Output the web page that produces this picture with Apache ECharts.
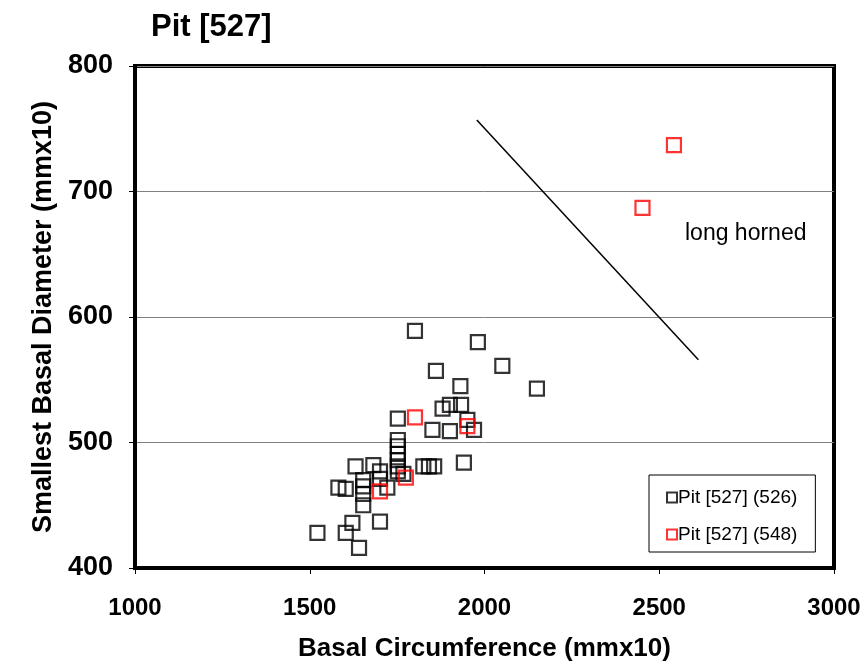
<!DOCTYPE html>
<html>
<head>
<meta charset="utf-8">
<script src="https://cdn.jsdelivr.net/npm/echarts@6/dist/echarts.min.js"></script>
<style>
  html, body { margin: 0; padding: 0; background: #fff; }
  #main { width: 867px; height: 669px; }
</style>
</head>
<body>
<div id="main"></div>
<script>
// 数据
var pit526X = [1801, 1981, 1861, 2051, 2150, 1931, 1880, 1901, 1933, 1752, 1951, 1970, 1851, 1901,
               1752, 1752, 1752, 1752, 1752, 1752, 1941, 1825, 1841, 1856, 1768, 1631, 1682, 1701,
               1701, 1722, 1582, 1603, 1653, 1653, 1653, 1653, 1622, 1701, 1522, 1603, 1641];
var pit526Y = [589, 580, 557, 561, 543, 545, 527, 530, 530, 519, 518, 510, 510, 509,
               502, 497, 491, 486, 481, 477, 484, 481, 481, 481, 475, 481, 482, 477,
               471, 464, 464, 463, 470, 465, 459, 450, 436, 437, 428, 428, 416];
var pit548X = [1801, 1951, 1701, 1775, 2452, 2542];
var pit548Y = [520, 513, 461, 472, 687, 737];
var lineX = [1978, 2612];
var lineY = [757, 566];
var xTicks = [1000, 1500, 2000, 2500, 3000];
var yTicks = [400, 500, 600, 700, 800];

function zip(xs, ys) {
    var out = [];
    for (var i = 0; i < xs.length; i++) out.push([xs[i], ys[i]]);
    return out;
}

var font = 'Liberation Sans, Arial, sans-serif';

var option = {
    backgroundColor: '#fff',
    animation: false,
    title: {
        text: 'Pit [527]',
        left: 146,
        top: 7,
        textStyle: { fontFamily: font, fontSize: 31, fontWeight: 'bold', color: '#000' }
    },
    grid: {
        left: 135, right: 33, top: 66, bottom: 101,
        show: true, borderColor: '#000', borderWidth: 4
    },
    legend: {
        orient: 'vertical',
        left: 649, top: 475,
        backgroundColor: '#fff',
        borderColor: '#000', borderWidth: 1,
        padding: [13, 18, 8, 17],
        itemGap: 18,
        itemWidth: 10, itemHeight: 10,
        textStyle: { fontFamily: font, fontSize: 19, color: '#000', padding: [0, 0, 0, -4] },
        data: ['Pit [527] (526)', 'Pit [527] (548)']
    },
    xAxis: {
        type: 'value',
        min: xTicks[0], max: xTicks[xTicks.length - 1], interval: 500,
        name: 'Basal Circumference (mmx10)',
        nameLocation: 'middle', nameGap: 68,
        nameTextStyle: { fontFamily: font, fontSize: 26, fontWeight: 'bold', color: '#000' },
        axisLine: { show: true, lineStyle: { color: '#000', width: 4 } },
        axisTick: { show: true, length: 6, lineStyle: { color: '#000', width: 1 } },
        axisLabel: {
            margin: 28, fontFamily: font, fontSize: 24, fontWeight: 'bold', color: '#000',
            formatter: function (v) { return String(v); }
        },
        splitLine: { show: false }
    },
    yAxis: {
        type: 'value',
        min: yTicks[0], max: yTicks[yTicks.length - 1], interval: 100,
        name: 'Smallest Basal Diameter (mmx10)',
        nameLocation: 'middle', nameGap: 73,
        nameTextStyle: { fontFamily: font, fontSize: 27, fontWeight: 'bold', color: '#000' },
        axisLine: { show: true, lineStyle: { color: '#000', width: 4 } },
        axisTick: { show: true, length: 6, lineStyle: { color: '#000', width: 1 } },
        axisLabel: {
            margin: 22, fontFamily: font, fontSize: 27, fontWeight: 'bold', color: '#000',
            formatter: function (v) { return String(v); }
        },
        splitLine: { show: true, lineStyle: { color: '#808080', width: 1 } }
    },
    graphic: [{
        type: 'text',
        left: 685, top: 222,
        style: { text: 'long horned', fontFamily: font, fontSize: 23, fill: '#000' }
    }],
    series: [
        {
            name: 'divider',
            type: 'line',
            data: zip(lineX, lineY),
            symbol: 'none',
            lineStyle: { color: '#000', width: 1.5 },
            silent: true
        },
        {
            name: 'Pit [527] (526)',
            type: 'scatter',
            data: zip(pit526X, pit526Y),
            symbol: 'rect',
            symbolSize: 14,
            itemStyle: { color: 'rgba(255,255,255,0)', borderColor: '#000', borderWidth: 2.2 }
        },
        {
            name: 'Pit [527] (548)',
            type: 'scatter',
            data: zip(pit548X, pit548Y),
            symbol: 'rect',
            symbolSize: 14,
            itemStyle: { color: 'rgba(255,255,255,0)', borderColor: '#ff0000', borderWidth: 2.2 }
        }
    ]
};

var chart = echarts.init(document.getElementById('main'));
chart.setOption(option);
</script>
</body>
</html>
